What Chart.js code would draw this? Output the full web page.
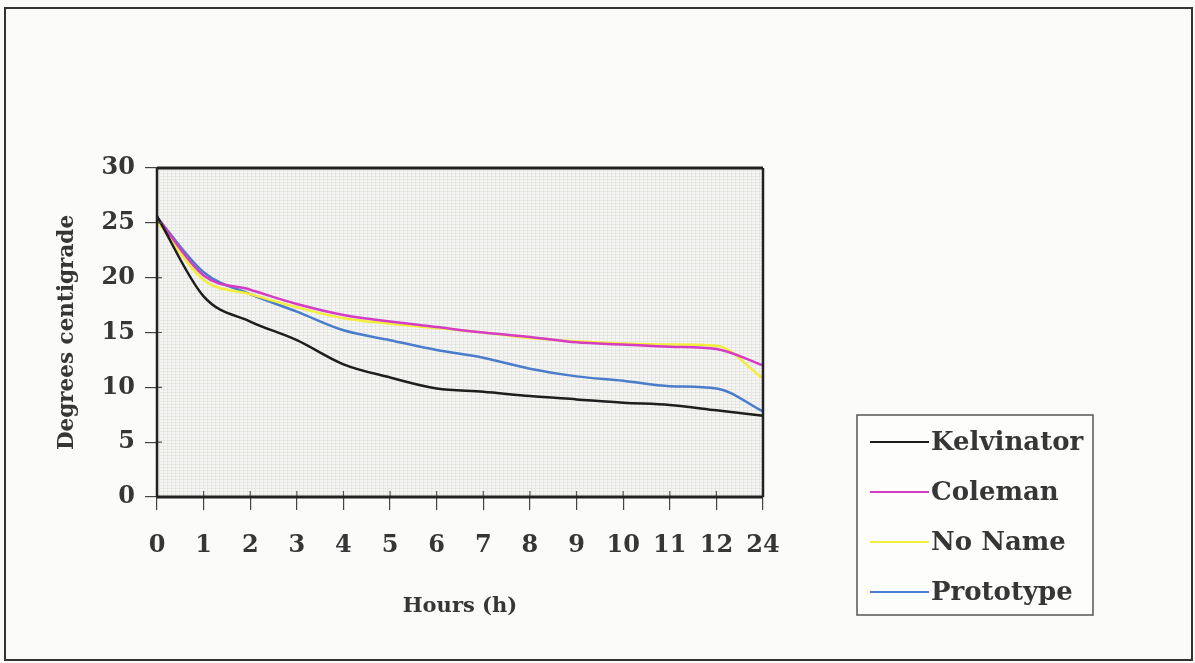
<!DOCTYPE html>
<html>
<head>
<meta charset="utf-8">
<script src="https://cdn.jsdelivr.net/npm/chart.js@4"></script>
<style>
  html, body { margin: 0; padding: 0; background: #fbfbfa; }
  #wrap { position: relative; width: 1195px; height: 663px; }
  canvas { display: block; }
</style>
</head>
<body>
<div id="wrap"><canvas id="grafico" width="1195" height="663"></canvas></div>
<script>
const horas = ["0", "1", "2", "3", "4", "5", "6", "7", "8", "9", "10", "11", "12", "24"];
const kelvinator = [25.6, 18.3, 16.0, 14.3, 12.1, 10.9, 9.9, 9.6, 9.2, 8.9, 8.6, 8.4, 7.9, 7.4];
const coleman = [25.5, 20.2, 18.9, 17.6, 16.6, 16.0, 15.5, 15.0, 14.6, 14.1, 13.9, 13.7, 13.5, 12.0];
const noName = [25.2, 19.8, 18.5, 17.3, 16.3, 15.8, 15.4, 15.0, 14.5, 14.2, 14.0, 13.9, 13.8, 10.8];
const prototype = [25.5, 20.5, 18.5, 16.9, 15.2, 14.3, 13.4, 12.7, 11.7, 11.0, 10.6, 10.1, 9.9, 7.8];

const fonte = "'DejaVu Serif', 'Liberation Serif', serif";
const corTexto = "#363636";

// fundo cinza granulado da area do grafico + moldura externa
const fundoPlot = {
  id: "fundoPlot",
  beforeDraw(chart) {
    const { ctx, chartArea: a } = chart;
    ctx.save();
    ctx.strokeStyle = "#333";
    ctx.lineWidth = 2;
    ctx.strokeRect(5, 8, 1187, 652);
    const p = document.createElement("canvas");
    p.width = 4; p.height = 3;
    const pc = p.getContext("2d");
    pc.fillStyle = "#f6f6f4";
    pc.fillRect(0, 0, 4, 3);
    pc.fillStyle = "#e6e6e3";
    pc.fillRect(0, 2, 4, 1);
    pc.fillRect(3, 0, 1, 3);
    ctx.fillStyle = ctx.createPattern(p, "repeat");
    ctx.fillRect(a.left, a.top, a.right - a.left, a.bottom - a.top);
    ctx.restore();
  },
  afterDatasetsDraw(chart) {
    const { ctx, chartArea: a, scales } = chart;
    ctx.save();
    // pequenos tracos dos ticks para dentro da area
    ctx.strokeStyle = "#555";
    ctx.lineWidth = 1.2;
    ctx.beginPath();
    scales.x.ticks.forEach((t, i) => {
      const px = scales.x.getPixelForTick(i);
      ctx.moveTo(px, a.bottom);
      ctx.lineTo(px, a.bottom - 6);
    });
    scales.y.ticks.forEach((t, i) => {
      const py = scales.y.getPixelForTick(i);
      ctx.moveTo(a.left, py);
      ctx.lineTo(a.left + 5, py);
    });
    ctx.stroke();
    ctx.strokeStyle = "#222";
    ctx.lineWidth = 3;
    ctx.beginPath();
    ctx.moveTo(a.left, a.top);
    ctx.lineTo(a.right, a.top);
    ctx.moveTo(a.left, a.bottom);
    ctx.lineTo(a.right, a.bottom);
    ctx.stroke();
    ctx.lineWidth = 2.5;
    ctx.beginPath();
    ctx.moveTo(a.left, a.top);
    ctx.lineTo(a.left, a.bottom);
    ctx.moveTo(a.right, a.top);
    ctx.lineTo(a.right, a.bottom);
    ctx.stroke();
    ctx.restore();
  }
};

// legenda em caixa, canto inferior direito
const legendaCaixa = {
  id: "legendaCaixa",
  afterDraw(chart) {
    const { ctx } = chart;
    const x = 857, y = 415, w = 236, h = 200;
    ctx.save();
    ctx.fillStyle = "#fdfdfc";
    ctx.fillRect(x, y, w, h);
    ctx.strokeStyle = "#555";
    ctx.lineWidth = 1.5;
    ctx.strokeRect(x, y, w, h);
    ctx.font = "bold 26px " + fonte;
    ctx.textBaseline = "middle";
    chart.data.datasets.forEach((ds, i) => {
      const yy = y + 27 + i * 50;
      ctx.strokeStyle = ds.borderColor;
      ctx.lineWidth = 2;
      ctx.beginPath();
      ctx.moveTo(x + 13, yy);
      ctx.lineTo(x + 72, yy);
      ctx.stroke();
      ctx.fillStyle = corTexto;
      ctx.fillText(ds.label, x + 74, yy + 1);
    });
    ctx.restore();
  }
};

const linha = (label, data, cor) => ({
  label, data,
  borderColor: cor,
  borderWidth: 2.5,
  pointRadius: 0,
  tension: 0.4,
  cubicInterpolationMode: "monotone",
  fill: false
});

new Chart(document.getElementById("grafico"), {
  type: "line",
  data: {
    labels: horas,
    datasets: [
      linha("Kelvinator", kelvinator, "#1e1e1e"),
      linha("Coleman", coleman, "#d43cc4"),
      linha("No Name", noName, "#f2ee3a"),
      linha("Prototype", prototype, "#4a7ccc")
    ]
  },
  options: {
    responsive: false,
    animation: false,
    layout: { padding: { left: 55, top: 168, right: 432, bottom: 44 } },
    plugins: {
      legend: { display: false },
      tooltip: { enabled: false }
    },
    scales: {
      x: {
        offset: false,
        grid: { drawOnChartArea: false, drawTicks: true, tickLength: 13, tickColor: "#444", lineWidth: 1.2 },
        border: { display: false },
        ticks: { color: corTexto, font: { family: fonte, size: 24, weight: "bold" }, padding: 21, maxRotation: 0, autoSkip: false },
        title: { display: true, text: "Hours (h)", color: corTexto, font: { family: fonte, size: 21, weight: "bold" }, padding: { top: 20, bottom: 0 } },
        afterFit: s => { s.height = 122; }
      },
      y: {
        min: 0, max: 30,
        grid: { drawOnChartArea: false, drawTicks: true, tickLength: 12, tickColor: "#444", lineWidth: 1.2 },
        border: { display: false },
        ticks: { stepSize: 5, color: corTexto, font: { family: fonte, size: 24, weight: "bold" }, padding: 10 },
        title: { display: true, text: "Degrees centigrade", color: corTexto, font: { family: fonte, size: 21.5, weight: "bold" }, padding: { top: 0, bottom: 10 } },
        afterFit: s => { s.width = 102; }
      }
    }
  },
  plugins: [fundoPlot, legendaCaixa]
});
</script>
</body>
</html>
